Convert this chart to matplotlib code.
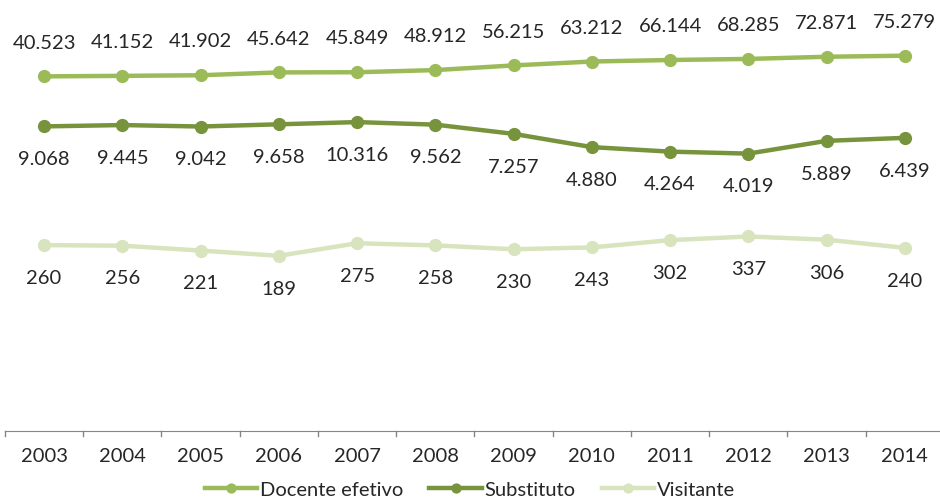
import numpy as np
import matplotlib.pyplot as plt

plt.rcParams['font.family'] = ['Lato', 'DejaVu Sans']

anos = ['2003', '2004', '2005', '2006', '2007', '2008',
        '2009', '2010', '2011', '2012', '2013', '2014']
docente_efetivo = [40523, 41152, 41902, 45642, 45849, 48912,
                   56215, 63212, 66144, 68285, 72871, 75279]
substituto = [9068, 9445, 9042, 9658, 10316, 9562,
              7257, 4880, 4264, 4019, 5889, 6439]
visitante = [260, 256, 221, 189, 275, 258, 230, 243, 302, 337, 306, 240]

series = [
    ('Docente efetivo', docente_efetivo, '#9bbb59', 1),
    ('Substituto', substituto, '#77933c', -1),
    ('Visitante', visitante, '#d7e4bd', -1),
]

def fmt(v):
    return f'{v:,}'.replace(',', '.')

fig = plt.figure(figsize=(9.4, 5.01), dpi=100)
ax = fig.add_axes([5 / 940, 70 / 501, 939 / 940, 431 / 501])

x = np.arange(len(anos))
for nome, vals, cor, lado in series:
    ax.plot(x, vals, color=cor, lw=3.2, marker='o', ms=8.5, label=nome)
    for xi, v in zip(x, vals):
        ax.annotate(fmt(v), (xi, v), xytext=(0, 24 * lado),
                    textcoords='offset points', ha='center', va='center',
                    fontsize=14.5, color='#262626')

ax.set_yscale('log')
ax.set_ylim(1, 10 ** 5.6)
ax.set_xlim(-0.5, len(anos) - 0.5)
ax.set_yticks([])
ax.minorticks_off()
ax.set_xticks(x)
ax.set_xticklabels(anos, fontsize=14.5, color='#262626')
ax.tick_params(axis='x', length=0, pad=12)
# marcas entre as categorias
for b in np.arange(-0.5, len(anos), 1.0):
    ax.plot([b, b], [1, 10 ** -0.07], color='#868686', lw=1,
            clip_on=False)
for s in ['top', 'right', 'left']:
    ax.spines[s].set_visible(False)
ax.spines['bottom'].set_color('#868686')

fig.legend(loc='center', bbox_to_anchor=(0.5, 0.022), ncol=3,
           frameon=False, fontsize=14.5, handlelength=2.6,
           handletextpad=0.15, columnspacing=1.3, labelcolor='#262626',
           markerscale=0.75)

fig.savefig('out.png', dpi=100)
